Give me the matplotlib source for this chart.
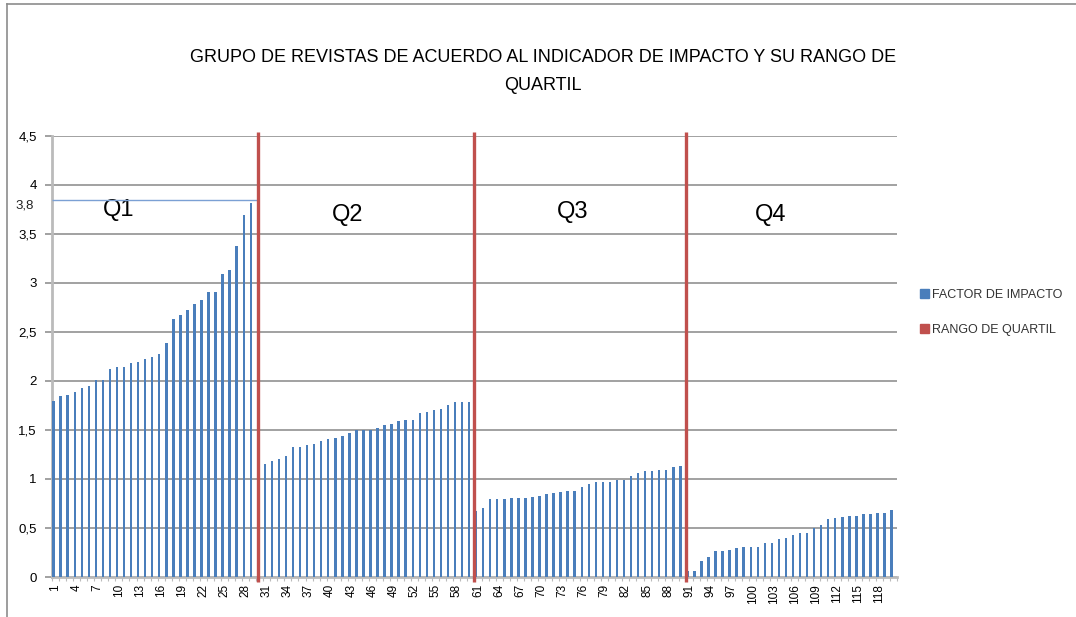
import numpy as np
import matplotlib.pyplot as plt
from matplotlib.patches import Patch
from matplotlib.lines import Line2D

plt.rcParams['font.family'] = ['Liberation Sans', 'DejaVu Sans']

# Factor de impacto de las 120 revistas (ordenadas por quartil)
factor_impacto = [
    1.79, 1.84, 1.85, 1.89, 1.93, 1.95, 2.01, 2.01, 2.12, 2.14,
    2.14, 2.18, 2.19, 2.22, 2.24, 2.27, 2.39, 2.63, 2.67, 2.72,
    2.78, 2.82, 2.90, 2.90, 3.09, 3.13, 3.37, 3.69, 3.81, 3.84,
    1.15, 1.18, 1.20, 1.23, 1.33, 1.33, 1.35, 1.36, 1.39, 1.41,
    1.42, 1.44, 1.47, 1.50, 1.50, 1.50, 1.52, 1.55, 1.56, 1.59,
    1.60, 1.60, 1.67, 1.68, 1.70, 1.71, 1.75, 1.78, 1.78, 1.78,
    0.67, 0.70, 0.79, 0.79, 0.79, 0.81, 0.81, 0.81, 0.82, 0.83,
    0.85, 0.86, 0.87, 0.88, 0.88, 0.92, 0.95, 0.97, 0.97, 0.97,
    0.99, 0.99, 1.03, 1.06, 1.08, 1.08, 1.09, 1.09, 1.12, 1.13,
    0.06, 0.06, 0.16, 0.20, 0.27, 0.27, 0.28, 0.30, 0.31, 0.31,
    0.31, 0.35, 0.35, 0.39, 0.40, 0.43, 0.45, 0.45, 0.50, 0.53,
    0.59, 0.60, 0.61, 0.62, 0.62, 0.64, 0.64, 0.65, 0.65, 0.68,
]
revistas = np.arange(1, len(factor_impacto) + 1)

# Rango de quartil: posicion de los cortes y su altura
limites_quartil = [30, 60.66, 90.87]
altura_quartil = 4.54
quartiles = ['Q1', 'Q2', 'Q3', 'Q4']
pos_quartiles = [10.2, 42.7, 74.7, 102.8]
alt_quartiles = [3.74, 3.69, 3.72, 3.69]
linea_q1 = 3.84

azul = '#4A7EBB'
rojo = '#C0504D'
gris = '#9A9A9A'

fig = plt.figure(figsize=(10.76, 6.17), dpi=100)
ax = fig.add_axes([52 / 1076, 40 / 617, 845 / 1076, 441.5 / 617])

ax.bar(revistas, factor_impacto, width=0.35, color=azul, zorder=3)
ax.vlines(limites_quartil, -0.05, altura_quartil, color=rojo, lw=2.4,
          zorder=5, clip_on=False)

# linea de corte del Q1
ax.hlines(linea_q1, 0.77, limites_quartil[0], color='#7BA0D4', lw=1, zorder=4)

for q, x, y in zip(quartiles, pos_quartiles, alt_quartiles):
    ax.text(x, y, q, fontsize=17, ha='center', va='center', color='black')

ax.set_xlim(0.77, 120.77)
ax.set_ylim(0, 4.5)

ax.set_yticks(np.arange(0, 4.51, 0.5))
ax.set_yticklabels(['0', '0,5', '1', '1,5', '2', '2,5', '3', '3,5', '4', '4,5'])
ax.text(-0.021, 3.79, '3,8', transform=ax.get_yaxis_transform(),
        ha='right', va='center', fontsize=9.5, color='#222222')

etiquetas = revistas[::3]
ax.set_xticks(etiquetas + 0.27)
ax.set_xticklabels([str(e) for e in etiquetas], rotation=90, fontsize=8.5)
ax.set_xticks(np.arange(0.77, 121, 1), minor=True)

ax.yaxis.grid(True, color=gris, lw=1.3, zorder=0)
ax.tick_params(axis='y', length=5, width=1.3, color=gris, pad=6, labelsize=9.5)
ax.tick_params(axis='x', which='major', length=0, pad=5)
ax.tick_params(axis='x', which='minor', length=3, width=0.8, color='#BBBBBB')

for s in ['top', 'right']:
    ax.spines[s].set_visible(False)
ax.spines['left'].set_color('#BBBBBB')
ax.spines['left'].set_linewidth(2)
ax.spines['bottom'].set_color('#BBBBBB')
ax.spines['bottom'].set_linewidth(2)

fig.text(543 / 1076, 1 - 58 / 617, 'GRUPO DE REVISTAS DE ACUERDO AL INDICADOR DE IMPACTO Y SU RANGO DE',
         ha='center', va='center', fontsize=13)
fig.text(543 / 1076, 1 - 86 / 617, 'QUARTIL', ha='center', va='center', fontsize=13)

handles = [Patch(color=azul), Patch(color=rojo)]
fig.legend(handles, ['FACTOR DE IMPACTO', 'RANGO DE QUARTIL'],
           loc='upper left', bbox_to_anchor=(920 / 1076, 1 - 289 / 617),
           frameon=False, fontsize=9, handlelength=0.7, handleheight=0.7,
           handletextpad=0.25, labelspacing=1.8, borderpad=0, borderaxespad=0,
           labelcolor='#333333')

# marco del grafico
fig.add_artist(Line2D([7 / 1076, 7 / 1076], [-0.1, 1 - 4 / 617], color='#8C8C8C', lw=1.2))
fig.add_artist(Line2D([7 / 1076, 1.1], [1 - 4 / 617, 1 - 4 / 617], color='#8C8C8C', lw=1.2))

plt.savefig('out.png', dpi=100)
plt.close()
